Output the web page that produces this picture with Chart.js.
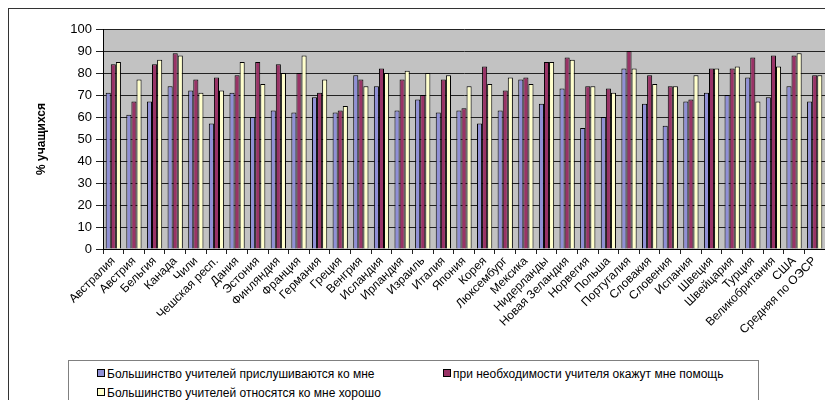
<!DOCTYPE html>
<html>
<head>
<meta charset="utf-8">
<script src="https://cdn.jsdelivr.net/npm/chart.js@4"></script>
<style>
  body { margin: 0; overflow: hidden; background: #fff; font-family: "Liberation Sans", Arial, sans-serif; }
  #wrap { position: absolute; left: 0; top: 0; width: 825px; height: 400px; }
  #legend {
    position: absolute; left: 68px; top: 360px; width: 689px; height: 60px;
    border: 1px solid #808080; background: #fff;
  }
  .item { position: absolute; font-size: 12px; color: #000; white-space: nowrap; line-height: 14px; }
  .box { display: inline-block; width: 6px; height: 6px; border: 1px solid #000; margin-right: 2px; vertical-align: 1px; }
</style>
</head>
<body>
<div id="wrap">
  <canvas id="myChart" width="825" height="400"></canvas>
  <div id="legend"></div>
</div>
<script>
// Countries (x axis)
const countries = ['Австралия', 'Австрия', 'Бельгия', 'Канада', 'Чили', 'Чешская респ.', 'Дания', 'Эстония',
  'Финляндия', 'Франция', 'Германия', 'Греция', 'Венгрия', 'Исландия', 'Ирландия', 'Израиль', 'Италия',
  'Япония', 'Корея', 'Люксембург', 'Мексика', 'Нидерланды', 'Новая Зеландия', 'Норвегия', 'Польша',
  'Португалия', 'Словакия', 'Словения', 'Испания', 'Швеция', 'Швейцария', 'Турция', 'Великобритания',
  'США', 'Средняя по ОЭСР'];

// % of students
const listenValues = [71, 61, 67, 74, 72, 57, 71, 60, 63, 62, 69, 62, 79, 74, 63, 68, 62,
  63, 57, 63, 77, 66, 73, 55, 60, 82, 66, 56, 67, 71, 70, 78, 69, 74, 67];
const helpValues = [84, 67, 84, 89, 77, 78, 79, 85, 84, 80, 71, 63, 77, 82, 77, 70, 77,
  64, 83, 72, 78, 85, 87, 74, 73, 90, 79, 74, 68, 82, 82, 87, 88, 88, 79];
const goodValues = [85, 77, 86, 88, 71, 72, 85, 75, 80, 88, 77, 65, 74, 80, 81, 80, 79,
  74, 75, 78, 75, 85, 86, 74, 71, 82, 75, 74, 79, 82, 83, 67, 83, 89, 79];

const seriesNames = ['Большинство учителей прислушиваются ко мне',
  'при необходимости учителя окажут мне помощь',
  'Большинство учителей относятся ко мне хорошо'];
const seriesColors = ['#9090D6', '#993366', '#FFFFCC'];

const yTicks = [0, 10, 20, 30, 40, 50, 60, 70, 80, 90, 100];

Chart.defaults.font.family = '"Liberation Sans", Arial, sans-serif';
Chart.defaults.color = '#000';

// Gray plot area and the outer frame
const backdrop = {
  id: 'backdrop',
  beforeDraw(chart) {
    const { ctx, chartArea: a } = chart;
    ctx.save();
    ctx.fillStyle = '#fff';
    ctx.fillRect(0, 0, chart.width, chart.height);
    ctx.strokeStyle = '#333';
    ctx.lineWidth = 1;
    ctx.strokeRect(8.5, 8.5, 900, 500);
    ctx.fillStyle = '#c2c2c2';
    ctx.fillRect(a.left, a.top, a.right - a.left, a.bottom - a.top);
    ctx.restore();
  }
};

const sets = [listenValues, helpValues, goodValues].map((vals, i) => ({
  label: seriesNames[i],
  data: vals,
  backgroundColor: seriesColors[i],
  borderColor: '#000',
  borderWidth: 1,
  categoryPercentage: 0.74,
  barPercentage: 1.0
}));

const chart = new Chart(document.getElementById('myChart'), {
  type: 'bar',
  data: { labels: countries, datasets: sets },
  options: {
    responsive: false,
    animation: false,
    layout: { padding: { top: 29, left: 0, right: 0, bottom: 0 } },
    plugins: {
      legend: { display: false },
      tooltip: { enabled: false }
    },
    scales: {
      x: {
        grid: { drawOnChartArea: false, color: '#222', tickLength: 5 },
        border: { color: '#000' },
        ticks: {
          autoSkip: false, maxRotation: 45, minRotation: 45,
          font: { size: 12 }, padding: 0
        },
        afterFit(scale) { scale.height = 151; }
      },
      y: {
        min: 0, max: 100,
        afterBuildTicks(scale) { scale.ticks = yTicks.map(v => ({ value: v })); },
        grid: { color: '#222', tickLength: 7 },
        border: { color: '#000' },
        ticks: { font: { size: 13 }, padding: 4 },
        title: {
          display: true, text: '% учащихся',
          font: { size: 12, weight: 'bold' },
          padding: { top: 34, bottom: 0 }
        },
        afterFit(scale) { scale.width = 103; }
      }
    }
  },
  plugins: [backdrop]
});

// Legend box in two columns, built from the chart's datasets
const legendPos = [[28, 6], [374, 6], [28, 25]];
const legendEl = document.getElementById('legend');
chart.data.datasets.forEach((ds, i) => {
  const item = document.createElement('div');
  item.className = 'item';
  item.style.left = legendPos[i][0] + 'px';
  item.style.top = legendPos[i][1] + 'px';
  const box = document.createElement('span');
  box.className = 'box';
  box.style.background = ds.backgroundColor;
  item.appendChild(box);
  item.appendChild(document.createTextNode(ds.label));
  legendEl.appendChild(item);
});
</script>
</body>
</html>
